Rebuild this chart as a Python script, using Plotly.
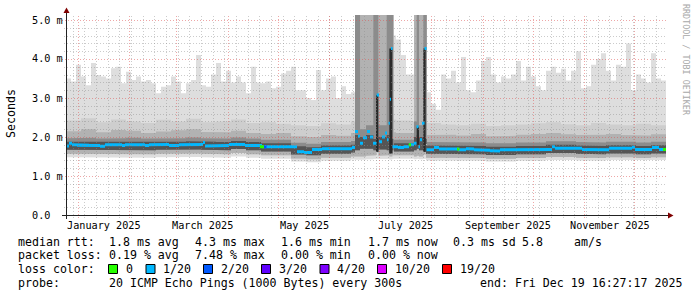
import pandas as pd
import plotly.graph_objects as go

# ---------------- data ----------------
END = pd.Timestamp('2025-12-19 16:27:17')
START = END - pd.Timedelta(days=360)
JAN1 = pd.Timestamp('2025-01-01')

# RTT values in milliseconds
MAX_STEP_DAYS = 3
MAX_MS = [3.50, 3.42, 3.85, 3.55, 3.33, 3.90, 3.59, 3.55, 3.50, 3.76,
          3.80, 3.38, 3.67, 3.46, 3.55, 3.42, 3.46, 3.38, 3.12, 3.29,
          3.33, 3.55, 3.42, 3.12, 3.38, 3.46, 4.10, 3.33, 3.29, 3.60,
          3.90, 3.42, 3.70, 3.40, 3.55, 3.40, 3.12, 3.80, 3.40, 3.38,
          3.42, 3.25, 3.29, 3.63, 3.70, 3.80, 3.20, 3.20, 3.00, 2.95,
          3.72, 3.20, 3.50, 3.55, 3.00, 3.30, 3.10, 3.15, 5.60, 5.60,
          5.60, 5.60, 5.60, 5.60, 5.60, 4.60, 4.50, 4.10, 3.60, 3.60,
          5.60, 5.60, 3.15, 2.85, 2.70, 3.60, 3.50, 3.70, 3.40, 4.05,
          3.20, 3.15, 3.45, 3.95, 4.05, 3.60, 3.40, 3.55, 3.50, 3.60,
          3.95, 3.45, 3.80, 3.55, 3.30, 3.20, 3.70, 3.80, 3.65, 3.75,
          3.45, 3.70, 4.20, 3.25, 3.30, 3.85, 4.00, 4.15, 3.70, 3.45,
          3.85, 3.80, 4.40, 3.20, 3.60, 3.50, 3.40, 4.15, 3.50, 3.45]

BAND_STEP_DAYS = 9
B_TOP = [2.42, 2.48, 2.38, 2.45, 2.40, 2.36, 2.44, 2.40, 2.47, 2.38,
         2.40, 2.45, 2.36, 2.38, 2.34, 2.30, 2.28, 2.35, 2.32, 2.40,
         2.50, 2.45, 2.42, 2.40, 2.36, 2.32, 2.30, 2.34, 2.28, 2.30,
         2.32, 2.35, 2.38, 2.33, 2.30, 2.36, 2.32, 2.30, 2.34, 2.30]
C_TOP = [2.15, 2.20, 2.12, 2.18, 2.16, 2.10, 2.14, 2.17, 2.20, 2.13,
         2.12, 2.16, 2.10, 2.08, 2.10, 2.02, 2.00, 2.05, 2.03, 2.10,
         2.20, 2.12, 2.10, 2.10, 2.05, 2.06, 2.04, 2.08, 2.02, 2.03,
         2.06, 2.08, 2.10, 2.07, 2.05, 2.06, 2.08, 2.05, 2.04, 2.07]
D_TOP = [1.97, 1.98, 1.96, 1.97, 1.98, 1.96, 1.97, 1.97, 1.99, 1.97,
         1.96, 1.99, 1.96, 1.93, 1.93, 1.85, 1.83, 1.87, 1.87, 1.90,
         1.98, 1.93, 1.93, 1.93, 1.87, 1.87, 1.86, 1.86, 1.84, 1.84,
         1.86, 1.86, 1.89, 1.89, 1.87, 1.86, 1.88, 1.88, 1.86, 1.88]
E_TOP = [1.88, 1.88, 1.87, 1.88, 1.88, 1.87, 1.88, 1.88, 1.89, 1.88,
         1.87, 1.90, 1.87, 1.84, 1.84, 1.76, 1.74, 1.78, 1.78, 1.80,
         1.88, 1.84, 1.84, 1.84, 1.78, 1.78, 1.77, 1.77, 1.75, 1.75,
         1.77, 1.77, 1.80, 1.80, 1.78, 1.77, 1.79, 1.79, 1.77, 1.79]
E_BOT = [1.67, 1.67, 1.66, 1.67, 1.67, 1.66, 1.67, 1.67, 1.68, 1.67,
         1.66, 1.69, 1.66, 1.63, 1.63, 1.55, 1.53, 1.57, 1.57, 1.60,
         1.68, 1.63, 1.63, 1.63, 1.57, 1.57, 1.56, 1.56, 1.54, 1.54,
         1.56, 1.56, 1.59, 1.59, 1.57, 1.56, 1.58, 1.58, 1.56, 1.58]
C_BOT = [1.57, 1.57, 1.56, 1.57, 1.57, 1.56, 1.57, 1.57, 1.58, 1.57,
         1.56, 1.59, 1.56, 1.53, 1.53, 1.45, 1.43, 1.47, 1.47, 1.50,
         1.58, 1.53, 1.53, 1.53, 1.47, 1.47, 1.46, 1.46, 1.44, 1.44,
         1.46, 1.46, 1.49, 1.49, 1.47, 1.46, 1.48, 1.48, 1.46, 1.48]
A_BOT = [1.48, 1.47, 1.47, 1.48, 1.48, 1.47, 1.48, 1.48, 1.49, 1.48,
         1.47, 1.50, 1.47, 1.44, 1.44, 1.37, 1.35, 1.39, 1.39, 1.42,
         1.44, 1.44, 1.44, 1.44, 1.40, 1.40, 1.39, 1.39, 1.37, 1.37,
         1.39, 1.39, 1.41, 1.41, 1.40, 1.39, 1.41, 1.41, 1.40, 1.41]

# median rtt: day offsets from 2025-01-01 where a new value starts
MED_DAY = [-7.31, -5.5, -3.7, -0.7, 6.5, 13.1, 16.1, 26.3, 28.1, 40.1,
           42.5, 50.3, 54.5, 60.5, 67.1, 74.9, 76.1, 80.3, 90.5, 100.1,
           110.3, 120.5, 125.9, 131.3, 135.5, 140.3, 146.3, 152.3, 160.1, 164.3,
           166.1, 167.9, 169.1, 170.9, 173.3, 175.1, 176.9, 179.0, 180.5, 182.3,
           184.1, 185.3, 186.2, 187.0, 187.7, 188.6, 191.9, 195.5, 198.5, 200.3,
           201.5, 203.0, 204.2, 205.1, 206.3, 207.8, 209.0, 213.5, 216.5, 228.5,
           232.7, 235.1, 237.5, 242.3, 247.1, 250.1, 253.1, 256.1, 260.3, 284.3,
           286.1, 302.3, 314.3, 318.5, 332.3, 334.1, 344.3, 348.5]
MED_MS = [1.77, 1.84, 1.80, 1.79, 1.78, 1.76, 1.80, 1.78, 1.80, 1.78,
          1.80, 1.81, 1.78, 1.80, 1.81, 1.86, 1.77, 1.78, 1.81, 1.78,
          1.75, 1.76, 1.75, 1.62, 1.60, 1.68, 1.70, 1.69, 1.70, 1.73,
          2.14, 2.02, 1.84, 1.98, 2.14, 2.00, 1.84, 3.08, 1.88, 2.00,
          2.10, 1.93, 2.35, 2.97, 4.27, 1.75, 1.73, 1.75, 1.80, 1.80,
          1.84, 2.26, 1.75, 1.93, 2.35, 4.27, 1.67, 1.73, 1.69, 1.67,
          1.70, 1.69, 1.67, 1.66, 1.65, 1.64, 1.67, 1.67, 1.68, 1.75,
          1.71, 1.68, 1.67, 1.71, 1.74, 1.68, 1.73, 1.68]
DATA_END_DAY = 352.69

# spots where the median had a loss level other than 1/20
LOSS_DAY0 = [109.1, 111.5, 198.3, 227.3, 350.9]
LOSS_DAY1 = [111.5, 113.0, 199.7, 228.8, 352.69]
LOSS_LEVEL = [0, 2, 0, 0, 0]

# outage periods (smoke running off the chart)
OUT1_EDGES = [166.1, 169.1, 172.7, 177.1, 178.7, 180.1, 185.1, 186.7, 188.5, 189.1]
OUT1_ABOT = [1.42, 1.42, 1.43, 1.45, 1.55, 1.44, 1.45, 1.42, 1.45]
OUT1_CBOT = [1.50, 1.50, 1.52, 1.53, 1.60, 1.52, 1.53, 1.50, 1.53]
OUT1_BTOP = [5.6, 5.6, 5.6, 5.6, 5.6, 5.6, 5.6, 5.6, 5.6]
OUT1_CTOP = [5.6, 5.6, 5.6, 5.6, 5.6, 5.6, 5.6, 5.6, 5.6]
OUT1_DTOP = [5.6, 2.2, 2.3, 5.6, 5.6, 2.3, 5.6, 5.6, 5.6]
OUT1_EBOT = [1.66, 1.70, 1.70, 1.66, 1.62, 1.68, 1.66, 1.58, 1.66]
OUT1_ETOP = [2.05, 2.00, 2.05, 1.95, 1.95, 2.00, 2.05, 1.95, 1.95]

OUT2_EDGES = [201.5, 203.1, 204.5, 207.1, 208.5, 209.1]
OUT2_ABOT = [1.43, 1.45, 1.43, 1.45, 1.80]
OUT2_CBOT = [1.50, 1.52, 1.50, 1.55, 1.82]
OUT2_BTOP = [5.6, 5.6, 5.6, 5.6, 5.6]
OUT2_CTOP = [5.6, 5.6, 5.6, 5.6, 5.6]
OUT2_DTOP = [2.4, 5.6, 2.3, 5.6, 5.6]
OUT2_EBOT = [1.66, 1.70, 1.66, 1.62, 1.82]
OUT2_ETOP = [2.00, 2.05, 2.00, 2.00, 1.95]

STRIP_DAY0 = [178.7, 186.7, 203.1, 207.1]
STRIP_DAY1 = [180.1, 188.5, 204.5, 208.5]
STRIP_LO = [1.62, 1.58, 1.80, 1.62]
STRIP_HI = [3.08, 4.27, 2.26, 4.27]

Y_TICKS = [0, 1, 2, 3, 4, 5]
Y_TICK_TEXT = ['0.0', '1.0 m', '2.0 m', '3.0 m', '4.0 m', '5.0 m']
MONTH_LABELS = ['January 2025', 'March 2025', 'May 2025', 'July 2025',
                'September 2025', 'November 2025']
MONTH_LABEL_AT = ['2025-01-01', '2025-03-01', '2025-05-01', '2025-07-01',
                  '2025-09-01', '2025-11-01']

LOSS_NAMES = ['0', '1/20', '2/20', '3/20', '4/20', '10/20', '19/20']
LOSS_COLORS = ['#26ff00', '#00b8ff', '#0059ff', '#5e00ff', '#7e00ff', '#dd00ff', '#ff0000']

# ---------------- layout constants ----------------
W, H = 697, 297
L, R, T, B = 66, 31, 15, 82
PW, PH = W - L - R, H - T - B
YMAX = 200 / 39.0
MONO = 'DejaVu Sans Mono'
SMOKE = ['#dedede', '#cecece', '#b2b2b2', '#8c8c8c', '#555555']
SPAN_S = (END - START).total_seconds()


def px_x(px):
    return (px - L) / PW


def px_y(py):
    return (H - B - py) / PH


def time_px(t):
    return L + (pd.Timestamp(t) - START).total_seconds() / SPAN_S * PW


def day_ts(d):
    return JAN1 + pd.Timedelta(days=d)


def step_xy(edges, vals):
    xs, ys = [], []
    for i, v in enumerate(vals):
        xs += [edges[i], edges[i + 1]]
        ys += [v, v]
    return xs, ys


def band(top_edges, top, bot_edges, bot, color):
    ux, uy = step_xy(top_edges, top)
    lx, ly = step_xy(bot_edges, bot)
    xs = ux + lx[::-1] + [ux[0]]
    ys = uy + ly[::-1] + [uy[0]]
    return go.Scatter(x=xs, y=ys, mode='lines', fill='toself', fillcolor=color,
                      line=dict(width=0), hoverinfo='skip', showlegend=False)


fig = go.Figure()

max_edges = [START + pd.Timedelta(days=MAX_STEP_DAYS * i) for i in range(len(MAX_MS) + 1)]
band_edges = [START + pd.Timedelta(days=BAND_STEP_DAYS * i) for i in range(len(B_TOP) + 1)]

fig.add_trace(band(max_edges, MAX_MS, band_edges, A_BOT, SMOKE[0]))
fig.add_trace(band(band_edges, B_TOP, band_edges, C_BOT, SMOKE[1]))
fig.add_trace(band(band_edges, C_TOP, band_edges, C_BOT, SMOKE[2]))
fig.add_trace(band(band_edges, D_TOP, band_edges, E_BOT, SMOKE[3]))
fig.add_trace(band(band_edges, E_TOP, band_edges, E_BOT, SMOKE[4]))

for edges_d, abot, cbot, btop, ctop, dtop, ebot, etop in [
        (OUT1_EDGES, OUT1_ABOT, OUT1_CBOT, OUT1_BTOP, OUT1_CTOP, OUT1_DTOP, OUT1_EBOT, OUT1_ETOP),
        (OUT2_EDGES, OUT2_ABOT, OUT2_CBOT, OUT2_BTOP, OUT2_CTOP, OUT2_DTOP, OUT2_EBOT, OUT2_ETOP)]:
    e = [day_ts(d) for d in edges_d]
    top = [YMAX + 0.5] * len(abot)
    fig.add_trace(band(e, top, e, abot, SMOKE[0]))
    fig.add_trace(band(e, btop, e, cbot, SMOKE[1]))
    fig.add_trace(band(e, ctop, e, cbot, SMOKE[2]))
    fig.add_trace(band(e, dtop, e, ebot, SMOKE[3]))
    fig.add_trace(band(e, etop, e, ebot, SMOKE[4]))

for d0, d1, lo, hi in zip(STRIP_DAY0, STRIP_DAY1, STRIP_LO, STRIP_HI):
    e = [day_ts(d0), day_ts(d1)]
    fig.add_trace(band(e, [hi], e, [lo], '#2a2a2a'))

# median drawn as a thin coloured band (no vertical connectors)
HALF = 1.5 / 39.0
med_edges = [day_ts(d) for d in MED_DAY] + [day_ts(DATA_END_DAY)]
fig.add_trace(band(med_edges, [v + HALF for v in MED_MS],
                   med_edges, [v - HALF for v in MED_MS], LOSS_COLORS[1]))


def median_at(day):
    val = MED_MS[0]
    for d, v in zip(MED_DAY, MED_MS):
        if d <= day:
            val = v
    return val


for d0, d1, lvl in zip(LOSS_DAY0, LOSS_DAY1, LOSS_LEVEL):
    v = median_at((d0 + d1) / 2)
    e = [day_ts(d0), day_ts(d1)]
    fig.add_trace(band(e, [v + HALF], e, [v - HALF], LOSS_COLORS[lvl]))

# ---------------- grid (drawn above the smoke, like rrdtool) ----------------
shapes = []
GRID = 'rgba(140,140,140,0.45)'
MGRID = 'rgba(222,80,80,0.5)'
DASH = '1px,2px'


def hline(py, x0px, color):
    y = px_y(py + 0.5)
    shapes.append(dict(type='line', xref='paper', yref='paper', x0=px_x(x0px), x1=1,
                       y0=y, y1=y, layer='above', line=dict(color=color, width=1, dash=DASH)))


def vline(px, color):
    x = px_x(int(px) + 0.5)
    shapes.append(dict(type='line', xref='paper', yref='paper', x0=x, x1=x,
                       y0=px_y(218), y1=1, layer='above', line=dict(color=color, width=1, dash=DASH)))


for k in range(1, 26):
    major = (k % 5 == 0)
    py = int(round(215 - k * 0.2 * 39))
    hline(py, 62 if major else 64, MGRID if major else GRID)
wk = pd.Timestamp('2024-12-29')
while wk <= END:
    vline(time_px(wk), GRID)
    wk += pd.Timedelta(days=7)
for m in pd.date_range('2025-01-01', '2025-12-01', freq='MS'):
    vline(time_px(m), MGRID)

# axes and arrows
AXIS = '#222222'
ARROW = '#7f0000'
shapes.append(dict(type='line', xref='paper', yref='paper', x0=px_x(62), x1=px_x(669),
                   y0=px_y(215.5), y1=px_y(215.5), layer='above', line=dict(color=AXIS, width=1)))
shapes.append(dict(type='line', xref='paper', yref='paper', x0=px_x(66.5), x1=px_x(66.5),
                   y0=px_y(219), y1=px_y(12), layer='above', line=dict(color=AXIS, width=1)))
shapes.append(dict(type='path', xref='paper', yref='paper', layer='above',
                   path='M {} {} L {} {} L {} {} Z'.format(px_x(668), px_y(212.5), px_x(673.5), px_y(215.5),
                                                            px_x(668), px_y(218.5)),
                   fillcolor=ARROW, line=dict(width=0)))
shapes.append(dict(type='path', xref='paper', yref='paper', layer='above',
                   path='M {} {} L {} {} L {} {} Z'.format(px_x(63.5), px_y(13), px_x(66.5), px_y(7.5),
                                                            px_x(69.5), px_y(13)),
                   fillcolor=ARROW, line=dict(width=0)))

# legend colour boxes
BOX_LEFT = [108.5, 146, 203.5, 261.5, 320, 377.5, 442.5]
for bx, col in zip(BOX_LEFT, LOSS_COLORS):
    shapes.append(dict(type='rect', xref='paper', yref='paper',
                       x0=px_x(bx), x1=px_x(bx + 9), y0=px_y(273.5), y1=px_y(264.5),
                       fillcolor=col, line=dict(color='black', width=1), layer='above'))

ann = []


def text(px, py, s, size=11.6, anchor='left', color='black', angle=0):
    ann.append(dict(xref='paper', yref='paper', x=px_x(px), y=px_y(py), text=s,
                    showarrow=False, xanchor=anchor, yanchor='middle', textangle=angle,
                    font=dict(family=MONO, size=size, color=color)))


for v, s in zip(Y_TICKS, Y_TICK_TEXT):
    text(29.5, 215 - v * 39, s, size=10.2)

for lab, at in zip(MONTH_LABELS, MONTH_LABEL_AT):
    m0 = pd.Timestamp(at)
    m1 = m0 + pd.offsets.MonthBegin(1)
    mid = m0 + (m1 - m0) / 2
    ann.append(dict(xref='x', yref='paper', x=mid, y=px_y(225), text=lab, showarrow=False,
                    xanchor='center', yanchor='middle', font=dict(family=MONO, size=10.2, color='black')))

text(11, 114, 'Seconds', size=11.6, anchor='center', angle=-90)
text(686, 60, 'RRDTOOL / TOBI OETIKER', size=8.4, anchor='center', color='#a8a8a8', angle=90)

ROW = [241.5, 255, 269, 282.5]
text(16, ROW[0], 'median rtt:')
for px, s in zip([107.3, 192.7, 279.3, 366, 451, 520, 571.7],
                 ['1.8 ms avg', '4.3 ms max', '1.6 ms min', '1.7 ms now', '0.3 ms sd', '5.8', 'am/s']):
    text(px, ROW[0], s)
text(16, ROW[1], 'packet loss:')
for px, s in zip([107.3, 192.7, 279.3, 366],
                 ['0.19 % avg', '7.48 % max', '0.00 % min', '0.00 % now']):
    text(px, ROW[1], s)
text(16, ROW[2], 'loss color:')
for bx, s in zip(BOX_LEFT, LOSS_NAMES):
    text(bx + 15, ROW[2], s)
text(16, ROW[3], 'probe:')
text(107.3, ROW[3], '20 ICMP Echo Pings (1000 Bytes) every 300s')
text(478.3, ROW[3], 'end: Fri Dec 19 16:27:17 2025')

fig.update_layout(
    width=W, height=H, autosize=False,
    margin=dict(l=L, r=R, t=T, b=B, pad=0),
    paper_bgcolor='white', plot_bgcolor='white',
    showlegend=False,
    xaxis=dict(type='date', range=[START, END], showgrid=False, zeroline=False,
               showticklabels=False, showline=False, ticks=''),
    yaxis=dict(range=[0, YMAX], showgrid=False, zeroline=False,
               showticklabels=False, showline=False, ticks=''),
    shapes=shapes, annotations=ann,
)

fig.write_html('out.html', config={'displayModeBar': False})
